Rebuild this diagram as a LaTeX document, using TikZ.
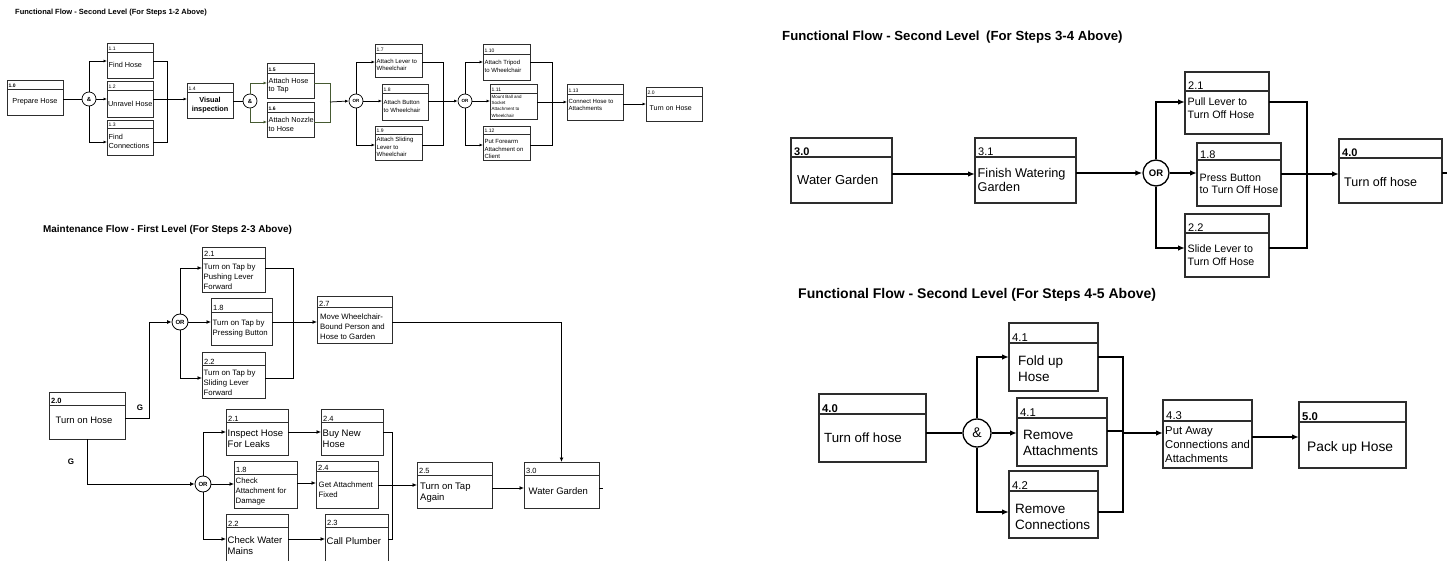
\documentclass[tikz,border=0pt]{standalone}
\usepackage{fontspec}
\setmainfont{Liberation Sans}
\usetikzlibrary{arrows.meta}
\definecolor{olivegreen}{RGB}{70,90,50}
\definecolor{boxgray}{RGB}{45,45,45}
\newcommand\fsz[2]{\fontsize{#1pt}{#2pt}\selectfont}
\newcommand{\flowbox}[9]{%
  \pgfmathsetmacro\fbW{#4-#2}%
  \pgfmathsetmacro\fbH{#5-#3}%
  \pgfmathsetmacro\fbY{(#6+#5)/2}%
  \node[fbox, minimum width=\fbW pt, minimum height=\fbH pt, anchor=north west] (#1) at (#2,#3) {};%
  \draw[fbox] (#2,#6) -- (#4,#6);%
  \node[fnum, anchor=south west] (#1-n) at (#2,#6) {#7};%
  \node[ftext, anchor=west, #9] (#1-t) at (#2+1.5,\fbY) {#8};%
}
\begin{document}
\begin{tikzpicture}[x=1pt,y=-1pt,
  title/.style={font=\bfseries, anchor=west, inner sep=0pt},
  glabel/.style={font=\bfseries\fsz{8}{9}, inner sep=0pt}]
\clip (0,0) rectangle (1447,561);
\fill[white] (0,0) rectangle (1447,561);

% ================= Section A =================
\begin{scope}[
 fbox/.style={draw=boxgray, line width=0.7pt, inner sep=0pt, outer sep=0pt},
 fnum/.style={font=\fsz{5}{6}, inner xsep=1.5pt, inner ysep=0.8pt},
 ftext/.style={font=\fsz{7.3}{8.4}, align=left, inner sep=0pt},
 conn/.style={line width=0.75pt, black},
 arr/.style={conn, -{Latex[length=3.5pt,width=3pt]}},
 gate/.style={circle, draw, line width=0.7pt, fill=white, inner sep=0pt, minimum size=14pt}]
\node[title, font=\bfseries\fsz{7.5}{9}] (tA) at (15,13) {Functional Flow - Second Level (For Steps 1-2 Above)};
\flowbox{a10}{7}{80}{63}{115}{89}{\textbf{1.0}}{Prepare Hose}{anchor=center, align=center, xshift=26.5pt}
\flowbox{a11}{107}{43}{153}{78}{52}{1.1}{Find Hose}{}
\flowbox{a12}{107}{81}{153}{117}{90}{1.2}{Unravel Hose}{xshift=-0.5pt}
\flowbox{a13}{107}{120}{153}{155}{128}{1.3}{Find\\Connections}{}
\flowbox{a14}{187}{83}{233}{118}{92}{1.4}{\bfseries Visual\\\bfseries inspection}{anchor=center, align=center, xshift=21.5pt}
\flowbox{a15}{267}{63}{314}{98}{73}{\textbf{1.5}}{Attach Hose\\to Tap}{}
\flowbox{a16}{267}{102}{314}{137}{112}{\textbf{1.6}}{Attach Nozzle\\to Hose}{}
\flowbox{a17}{375}{44}{422}{77}{53}{1.7}{Attach Lever to\\Wheelchair}{font=\fsz{6}{7.6}}
\flowbox{a18}{382}{84}{428}{120}{93}{1.8}{Attach Button\\to Wheelchair}{font=\fsz{6}{7.6}}
\flowbox{a19}{375}{126}{422}{160}{134}{1.9}{Attach Sliding\\Lever to\\Wheelchair}{font=\fsz{6}{7.6}}
\flowbox{a110}{483}{44}{530}{80}{54}{1.10}{Attach Tripod\\to Wheelchair}{font=\fsz{6}{7.6}, yshift=0.5pt}
\flowbox{a111}{490}{84}{537}{119}{93}{1.11}{Mount Ball and\\Socket\\Attachment to\\Wheelchair}{font=\fsz{4.5}{6.3}}
\flowbox{a112}{483}{126}{530}{160}{134}{1.12}{Put Forearm\\Attachment on\\Client}{font=\fsz{6}{7.6}, yshift=-2pt}
\flowbox{a113}{567}{84}{623}{120}{94}{1.13}{Connect Hose to\\Attachments}{font=\fsz{6}{7.6}, yshift=2pt}
\flowbox{a20}{646}{87}{702}{121}{96}{2.0}{Turn on Hose}{font=\fsz{7}{8}, xshift=2pt}
\node[gate, font=\bfseries\fsz{6}{7}] (aand1) at (89,99) {\&};
\node[gate, font=\bfseries\fsz{6}{7}] (aand2) at (250,101) {\&};
\node[gate, font=\bfseries\fsz{4.5}{5}] (aor1) at (356,101) {OR};
\node[gate, font=\bfseries\fsz{4.5}{5}] (aor2) at (465,101) {OR};
\coordinate (am1) at (167,99);
\coordinate (am2) at (330,102);
\coordinate (am3) at (443,101);
\coordinate (am4) at (552,102);
\draw[conn] (a10.east |- aand1) -- (aand1);
\draw[arr] (aand1.north) |- (a11.west |- 0,61);
\draw[arr] (aand1.east) -- (a12.west |- aand1);
\draw[arr] (aand1.south) |- (a13.west |- 0,142);
\draw[conn] (a11.east |- 0,61) -| (am1);
\draw[conn] (a13.east |- 0,142) -| (am1);
\draw[arr] (a12.east |- am1) -- (a14.west |- am1);
\draw[conn] (a14.east |- aand2) -- (aand2);
\draw[arr, olivegreen] (aand2.north) |- (a15.west |- 0,83);
\draw[arr, olivegreen] (aand2.south) |- (a16.west |- 0,122);
\draw[conn, olivegreen] (a15.east |- 0,83) -| (am2);
\draw[conn, olivegreen] (a16.east |- 0,122) -| (am2);
\draw[arr] (am2) -- (aor1.west);
\draw[arr] (aor1.north) |- (a17.west |- 0,62);
\draw[arr] (aor1.east) -- (a18.west |- aor1);
\draw[arr] (aor1.south) |- (a19.west |- 0,145);
\draw[conn] (a17.east |- 0,62) -| (am3);
\draw[conn] (a19.east |- 0,145) -| (am3);
\draw[arr] (a18.east |- aor2) -- (aor2.west);
\draw[arr] (aor2.north) |- (a110.west |- 0,62);
\draw[arr] (aor2.east) -- (a111.west |- aor2);
\draw[arr] (aor2.south) |- (a112.west |- 0,145);
\draw[conn] (a110.east |- 0,62) -| (am4);
\draw[conn] (a112.east |- 0,145) -| (am4);
\draw[arr] (a111.east |- am4) -- (a113.west |- am4);
\draw[arr] (a113.east |- 0,104) -- (a20.west |- 0,104);
\end{scope}

% ================= Section B =================
\begin{scope}[
 fbox/.style={draw=boxgray, line width=0.8pt, inner sep=0pt, outer sep=0pt},
 fnum/.style={font=\fsz{7.5}{8}, inner xsep=2pt, inner ysep=0.8pt},
 ftext/.style={font=\fsz{7.8}{10}, align=left, inner sep=0pt},
 conn/.style={line width=1pt, black},
 arr/.style={conn, -{Latex[length=4.5pt,width=4pt]}},
 gate/.style={circle, draw, line width=0.8pt, fill=white, inner sep=0pt, minimum size=16pt}]
\node[title, font=\bfseries\fsz{9.9}{11}] (tB) at (43,230) {Maintenance Flow - First Level (For Steps 2-3 Above)};
\flowbox{b21}{202}{247}{265}{292}{258}{2.1}{Turn on Tap by\\Pushing Lever\\Forward}{yshift=-2pt}
\flowbox{b18}{211}{298}{272}{345}{312}{1.8}{Turn on Tap by\\Pressing Button}{}
\flowbox{b22}{202}{352}{265}{398}{365}{2.2}{Turn on Tap by\\Sliding Lever\\Forward}{yshift=-1.5pt}
\flowbox{b27}{317}{296}{392}{343}{307}{2.7}{Move Wheelchair-\\Bound Person and\\Hose to Garden}{xshift=1.5pt, yshift=-2pt}
\flowbox{b20}{49}{392}{125}{439}{405}{\textbf{2.0}}{Turn on Hose}{font=\fsz{9.4}{11}, xshift=5pt, yshift=2pt}
\flowbox{bi21}{226}{409}{288}{455}{422}{2.1}{Inspect Hose\\For Leaks}{font=\fsz{9.5}{10.8}}
\flowbox{b24a}{321}{409}{383}{455}{422}{2.4}{Buy New\\Hose}{font=\fsz{9.5}{10.8}}
\flowbox{b18b}{234}{461}{297}{508}{474}{1.8}{Check\\Attachment for\\Damage}{}
\flowbox{b24b}{316}{461}{378}{508}{471}{2.4}{Get Attachment\\Fixed}{xshift=1pt}
\flowbox{b22b}{226}{514}{288}{575}{527}{2.2}{Check Water\\Mains}{font=\fsz{9.5}{10.8}, yshift=5.5pt}
\flowbox{b23}{325}{514}{388}{575}{527}{2.3}{Call Plumber}{font=\fsz{9.5}{10.8}, yshift=10pt}
\flowbox{b25}{417}{462}{492}{508}{475}{2.5}{Turn on Tap\\Again}{font=\fsz{9.5}{10.8}, xshift=1.5pt, yshift=-1pt}
\flowbox{b30}{524}{462}{599}{508}{475}{3.0}{Water Garden}{font=\fsz{9.5}{10.8}, xshift=3pt}
\node[gate, font=\bfseries\fsz{6}{7}] (bor1) at (180,322) {OR};
\node[gate, font=\bfseries\fsz{6}{7}] (bor2) at (203,484) {OR};
\coordinate (bc1) at (149,418);
\coordinate (bm1) at (293,322);
\coordinate (bm2) at (392,485);
\coordinate (bout) at (603,488);
\draw[arr] (b20.east |- bc1) -- (bc1) |- (bor1.west);
\node[glabel] (g1) at (140,408) {G};
\draw[arr] (b20.south) |- (bor2.west);
\node[glabel] (g2) at (71,462) {G};
\draw[arr] (bor1.north) |- (b21.west |- 0,268);
\draw[arr] (bor1.east) -- (b18.west |- bor1);
\draw[arr] (bor1.south) |- (b22.west |- 0,378);
\draw[conn] (b21.east |- 0,268) -| (bm1);
\draw[conn] (b22.east |- 0,378) -| (bm1);
\draw[arr] (b18.east |- bm1) -- (b27.west |- bm1);
\draw[arr] (b27.east |- 0,322) -| (b30.north);
\draw[arr] (bor2.north) |- (bi21.west |- 0,432);
\draw[arr] (bor2.east) -- (b18b.west |- bor2);
\draw[arr] (bor2.south) |- (b22b.west |- 0,539);
\draw[arr] (bi21.east |- 0,432) -- (b24a.west |- 0,432);
\draw[arr] (b18b.east |- 0,483) -- (b24b.west |- 0,483);
\draw[arr] (b22b.east |- 0,539) -- (b23.west |- 0,539);
\draw[conn] (b24a.east |- 0,432) -| (bm2);
\draw[conn] (b23.east |- 0,539) -| (bm2);
\draw[arr] (b24b.east |- bm2) -- (b25.west |- bm2);
\draw[arr] (b25.east |- 0,488) -- (b30.west |- 0,488);
\draw[conn] (b30.east |- bout) -- (bout);
\end{scope}

% ================= Section C =================
\begin{scope}[
 fbox/.style={draw=boxgray, line width=1.2pt, inner sep=0pt, outer sep=0pt},
 fnum/.style={font=\fsz{11}{12}, inner xsep=3pt, inner ysep=1.5pt},
 ftext/.style={font=\fsz{10.7}{12.7}, align=left, inner sep=0pt},
 conn/.style={line width=1.6pt, black},
 arr/.style={conn, -{Latex[length=7pt,width=5.5pt]}},
 gate/.style={circle, draw, line width=1.3pt, fill=white, inner sep=0pt, minimum size=26pt}]
\node[title, font=\bfseries\fsz{13.2}{15}] (tC) at (782,37) {Functional Flow - Second Level\hspace{3pt} (For Steps 3-4 Above)};
\flowbox{c30}{791}{138}{892}{203}{157}{\textbf{3.0}}{Water Garden}{font=\fsz{13}{15}, xshift=4.5pt}
\flowbox{c31}{975}{138}{1076}{203}{157}{3.1}{Finish Watering\\Garden}{font=\fsz{12.7}{14.5}, xshift=1pt}
\flowbox{c21}{1185}{72}{1269}{134}{91}{2.1}{Pull Lever to\\Turn Off Hose}{xshift=1pt, yshift=4pt}
\flowbox{c18}{1197}{143}{1281}{206}{160}{1.8}{Press Button\\to Turn Off Hose}{xshift=1pt, yshift=-1pt}
\flowbox{c22}{1185}{214}{1269}{277}{233}{2.2}{Slide Lever to\\Turn Off Hose}{xshift=1pt}
\flowbox{c40}{1339}{139}{1442}{203}{158}{\textbf{4.0}}{Turn off hose}{font=\fsz{12.5}{14}, xshift=3.5pt, yshift=-1.5pt}
\node[gate, font=\bfseries\fsz{9.5}{10}] (cor) at (1156,173) {OR};
\coordinate (cm) at (1307,174);
\coordinate (cout) at (1447,173);
\draw[arr] (c30.east |- 0,174) -- (c31.west |- 0,174);
\draw[arr] (c31.east |- cor) -- (cor.west);
\draw[arr] (cor.north) |- (c21.west |- 0,102);
\draw[arr] (cor.east) -- (c18.west |- cor);
\draw[arr] (cor.south) |- (c22.west |- 0,248);
\draw[conn] (c21.east |- 0,102) -| (cm);
\draw[conn] (c22.east |- 0,248) -| (cm);
\draw[conn] (c18.east |- cm) -- (cm);
\draw[arr] (cm) -- (c40.west |- cm);
\draw[conn] (c40.east |- cout) -- (cout);
\end{scope}

% ================= Section D =================
\begin{scope}[
 fbox/.style={draw=boxgray, line width=1.2pt, inner sep=0pt, outer sep=0pt},
 fnum/.style={font=\fsz{11.3}{12}, inner xsep=3pt, inner ysep=1.5pt},
 ftext/.style={font=\fsz{13.5}{15.8}, align=left, inner sep=0pt},
 conn/.style={line width=1.6pt, black},
 arr/.style={conn, -{Latex[length=7pt,width=5.5pt]}},
 gate/.style={circle, draw, line width=1.3pt, fill=white, inner sep=0pt, minimum size=28pt}]
\node[title, font=\bfseries\fsz{14}{16}] (tD) at (798,295) {Functional Flow - Second Level (For Steps 4-5 Above)};
\flowbox{d40}{819}{394}{926}{462}{414}{\textbf{4.0}}{Turn off hose}{font=\fsz{13.3}{15}, xshift=3.5pt}
\flowbox{d41a}{1009}{323}{1098}{391}{343}{4.1}{Fold up\\Hose}{xshift=7.5pt, yshift=-2pt}
\flowbox{d41b}{1017}{398}{1107}{466}{418}{4.1}{Remove\\Attachments}{xshift=4.5pt, yshift=-1pt}
\flowbox{d42}{1009}{471}{1098}{538}{491}{4.2}{Remove\\Connections}{xshift=4.5pt, yshift=-2.5pt}
\flowbox{d43}{1163}{400}{1252}{468}{421}{4.3}{Put Away\\Connections and\\Attachments}{font=\fsz{11.3}{14}, xshift=0.5pt}
\flowbox{d50}{1299}{402}{1406}{468}{422}{\textbf{5.0}}{Pack up Hose}{font=\fsz{13.8}{15}, xshift=6.5pt, yshift=-3pt}
\node[gate, font=\fsz{14}{15}] (dand) at (977,433) {\&};
\coordinate (dm) at (1123,433);
\draw[conn] (d40.east |- dand) -- (dand);
\draw[arr] (dand.north) |- (d41a.west |- 0,357);
\draw[arr] (dand.east) -- (d41b.west |- dand);
\draw[arr] (dand.south) |- (d42.west |- 0,512);
\draw[conn] (d41a.east |- 0,357) -| (dm);
\draw[conn] (d42.east |- 0,512) -| (dm);
\draw[conn] (d41b.east |- 0,431) -- (dm |- 0,431);
\draw[arr] (dm) -- (d43.west |- dm);
\draw[arr] (d43.east |- 0,437) -- (d50.west |- 0,437);
\end{scope}
\end{tikzpicture}
\end{document}
